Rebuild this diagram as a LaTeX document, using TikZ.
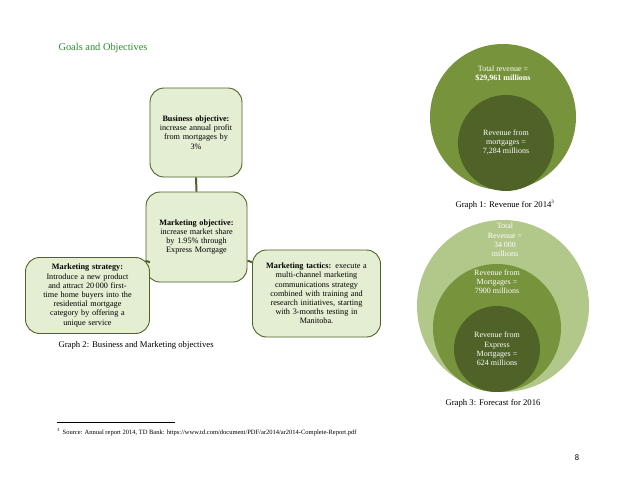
\documentclass[tikz,border=0pt]{standalone}
\usepackage{fontspec}
\setmainfont{Liberation Serif}
\newfontfamily\pagefont{Carlito}
\usepackage{xcolor}
\usetikzlibrary{positioning}
\definecolor{Olive}{HTML}{4F6228}
\definecolor{Leaf}{HTML}{77933C}
\definecolor{Sage}{HTML}{B2C78A}
\definecolor{Mint}{HTML}{E4EED3}
\definecolor{Heading}{HTML}{2F8A2F}

\begin{document}
\begin{tikzpicture}[x=1pt,y=-1pt,
  goalbox/.style={draw=Olive,line width=0.9pt,rounded corners=14pt,fill=Mint,align=center,inner sep=2pt,font=\fontsize{8.2}{9.2}\selectfont},
  link/.style={draw=Olive,line width=2pt},
  ringtext/.style={text=white,align=center,font=\fontsize{8}{9.2}\selectfont},
  caption/.style={font=\fontsize{8.7}{10}\selectfont}]
  \useasboundingbox[fill=white] (0,0) rectangle (638,493);
  \node[anchor=west,text=Heading,font=\fontsize{10.4}{12}\selectfont] (title) at (55,48) {Goals and Objectives};
  % hierarchy boxes
  \node[goalbox,minimum width=92pt,minimum height=89pt,text width=88pt] (business) at (196,132.5) {\textbf{Business objective:}\\increase annual profit\\from mortgages by\\3\%};
  \node[goalbox,minimum width=101pt,minimum height=90pt,text width=96pt] (objective) at (196.5,237) {\textbf{Marketing objective:}\\increase market share\\by 1.95\% through\\Express Mortgage};
  \node[goalbox,minimum width=124pt,minimum height=76pt,text width=120pt] (strategy) at (87.5,295.5) {\textbf{Marketing strategy:}\\Introduce a new product\\and attract 20\,000 first-\\time home buyers into the\\residential mortgage\\category by offering a\\unique service};
  \node[goalbox,minimum width=127pt,minimum height=87pt,text width=124pt] (tactics) at (316.5,293.5) {\textbf{Marketing tactics:} execute a\\multi-channel marketing\\communications strategy\\combined with training and\\research initiatives, starting\\with 3-months testing in\\Manitoba.};
  \draw[link] (business.south) -- (objective.north);
  \draw[link] (objective.205) -- (strategy.28);
  \draw[link] (objective.-25) -- (tactics.154);
  \node[caption,anchor=west] (graphtwo) at (55,345) {Graph 2: Business and Marketing objectives};
  % graph 1
  \fill[Leaf] (503,117) circle[radius=73];
  \fill[Olive] (506,143) circle[radius=48];
  \node[ringtext] (total) at (503,73.5) {Total revenue =\\\textbf{\$29,961 millions}};
  \node[ringtext] (mortgages) at (506,142.5) {Revenue from\\mortgages =\\7,284 millions};
  \node[caption] (graphone) at (505,205) {Graph 1: Revenue for 2014\textsuperscript{\fontsize{5}{5}\selectfont 3}};
  % graph 3
  \fill[Sage] (503,306) circle[radius=86];
  \fill[Leaf] (497,328) circle[radius=64];
  \fill[Olive] (497,349) circle[radius=43];
  \node[ringtext] (forecast) at (505,240) {Total\\Revenue =\\34 000\\millions};
  \node[ringtext] (mortforecast) at (497,282) {Revenue from\\Mortgages =\\7900 millions};
  \node[ringtext] (express) at (497,349) {Revenue from\\Express\\Mortgages =\\624 millions};
  \node[caption] (graphthree) at (493,403) {Graph 3: Forecast for 2016};
  % footnote and page number
  \coordinate (ruleleft) at (57,422);
  \coordinate (ruleright) at (175,422);
  \draw[line width=0.4pt] (ruleleft) -- (ruleright);
  \node[anchor=west,inner sep=0pt,font=\fontsize{6.5}{8}\selectfont] (source) at (57,432) {\textsuperscript{3}\, Source: Annual report 2014, TD Bank: https://www.td.com/document/PDF/ar2014/ar2014-Complete-Report.pdf};
  \node[font=\pagefont\fontsize{8.5}{10}\selectfont] (page) at (577,458) {8};
\end{tikzpicture}
\end{document}
